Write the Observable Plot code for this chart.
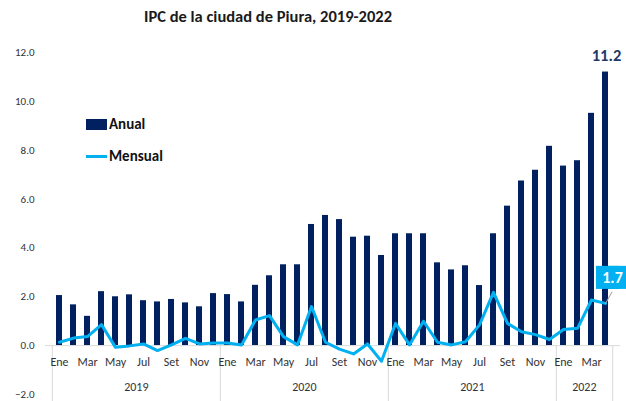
<!DOCTYPE html>
<html><head><meta charset="utf-8">
<script src="https://cdn.jsdelivr.net/npm/d3@7"></script>
<script src="https://cdn.jsdelivr.net/npm/@observablehq/plot@0.6"></script>
<style>
body{margin:0;background:#fff;font-family:Carlito,"Liberation Sans",Arial,sans-serif;}
#wrap{position:relative;width:626px;height:401px;overflow:hidden;}
#title{position:absolute;left:268px;top:6px;transform:translateX(-50%);white-space:nowrap;font-weight:bold;font-size:16.5px;color:#1a1a1a;}
#chart{position:absolute;left:0;top:36px;}
.leg{position:absolute;left:86px;font-weight:bold;font-size:15px;color:#111;height:20px;line-height:20px;display:flex;align-items:center;}
.sw{display:inline-block;width:21px;margin-right:2px;}
</style></head><body>
<div id="wrap"><div id="title">IPC de la ciudad de Piura, 2019-2022</div><div id="chart"></div><div id="legend"></div></div>
<script>
// ---- data ----
const years = [2019, 2020, 2021, 2022];
const monthNames = ["Ene","Feb","Mar","Abr","May","Jun","Jul","Ago","Set","Oct","Nov","Dic"];
const anual = [2.05,1.67,1.20,2.21,2.00,2.08,1.84,1.79,1.89,1.75,1.59,2.13,
               2.09,1.79,2.47,2.86,3.31,3.31,4.96,5.33,5.16,4.44,4.48,3.69,
               4.58,4.58,4.58,3.39,3.10,3.27,2.46,4.58,5.71,6.74,7.18,8.16,
               7.35,7.57,9.51,11.2];
const mensual = [0.14,0.31,0.37,0.86,-0.07,-0.01,0.07,-0.20,0.03,0.30,0.07,0.11,
                 0.11,0.03,1.05,1.23,0.37,0.03,1.60,0.14,-0.14,-0.34,0.07,-0.64,
                 0.91,0.03,1.00,0.14,0.03,0.16,0.85,2.18,0.91,0.57,0.45,0.25,
                 0.66,0.71,1.87,1.73];
const yTicks = [-2, 0, 2, 4, 6, 8, 10, 12];
const seriesNames = ["Anual", "Mensual"];
const colors = {Anual: "#002060", Mensual: "#00B0F0"};

// ---- derived table ----
const rows = anual.map((a, i) => {
  const year = years[0] + Math.floor(i / 12), m = i % 12;
  return {key: `${year}-${String(m + 1).padStart(2, "0")}`, year, m, month: monthNames[m], anual: a, mensual: mensual[i]};
});
const keys = rows.map(d => d.key);
const monthTicks = rows.filter(d => d.m % 2 === 0);
const yearStarts = rows.filter(d => d.m === 0);
const lastRow = rows[rows.length - 1];
const yearLabels = years.map(y => {
  const r = rows.filter(d => d.year === y);
  return {year: y, key: r[Math.floor(r.length / 2)].key};
});
const fmt = d3.format(".1f");

const W = 626, H = 365, ML = 45, MR = 6;
const halfStep = (W - ML - MR) / keys.length / 2;

const chart = Plot.plot({
  width: W, height: H,
  marginLeft: ML, marginRight: MR, marginTop: 16, marginBottom: 7,
  style: {fontFamily: 'Carlito, "Liberation Sans", Arial, sans-serif', fontSize: "11px", color: "#333", background: "transparent", overflow: "visible"},
  x: {type: "band", domain: keys, paddingInner: 0.55, paddingOuter: 0.275, axis: null},
  y: {domain: [-2, 12], ticks: yTicks, tickFormat: fmt, tickSize: 0, tickPadding: 11, label: null},
  marks: [
    Plot.barY(rows, {x: "key", y: "anual", fill: colors.Anual}),
    Plot.ruleY([0], {stroke: "#d9d9d9"}),
    Plot.ruleX(yearStarts, {x: "key", dx: -halfStep, y1: 0, y2: -2.4, stroke: "#d9d9d9"}),
    Plot.ruleX([lastRow], {x: "key", dx: halfStep, y1: 0, y2: -2.4, stroke: "#d9d9d9"}),
    Plot.line(rows, {x: "key", y: "mensual", stroke: colors.Mensual, strokeWidth: 3}),
    Plot.vector([lastRow], {x: "key", y: "mensual", length: 13, rotate: 30, anchor: "start", shape: "spike", r: 0.01, stroke: "#a6a6a6", strokeWidth: 1}),
    Plot.text(monthTicks, {x: "key", text: "month", frameAnchor: "bottom", lineAnchor: "middle", dy: -32, fill: "#333", fontSize: 12}),
    Plot.text(yearLabels, {x: "key", text: d => String(d.year), frameAnchor: "bottom", lineAnchor: "middle", dx: -halfStep, dy: -7, fill: "#333", fontSize: 12}),
    Plot.text([lastRow], {x: "key", y: "anual", text: d => fmt(d.anual), dy: -16, dx: 1, fill: "#1f3864", fontWeight: "bold", fontSize: 16.5}),
    Plot.dot([lastRow], {x: "key", y: "mensual", symbol: "square", r: 13, fill: colors.Mensual, dx: 2, dy: -26}),
    Plot.dot([lastRow], {x: "key", y: "mensual", symbol: "square", r: 13, fill: colors.Mensual, dx: 14, dy: -26}),
    Plot.text([lastRow], {x: "key", y: "mensual", text: d => fmt(d.mensual), dx: 7, dy: -26, fill: "white", fontWeight: "bold", fontSize: 16})
  ]
});
document.getElementById("chart").appendChild(chart);

// legend
const leg = document.getElementById("legend");
seriesNames.forEach((s, i) => {
  const div = document.createElement("div");
  div.className = "leg";
  div.style.top = (114 + i * 32) + "px";
  const sw = document.createElement("span");
  sw.className = "sw";
  sw.style.background = colors[s];
  sw.style.height = i === 0 ? "11px" : "3px";
  div.appendChild(sw);
  div.appendChild(document.createTextNode(s));
  leg.appendChild(div);
});
</script>
</body></html>
